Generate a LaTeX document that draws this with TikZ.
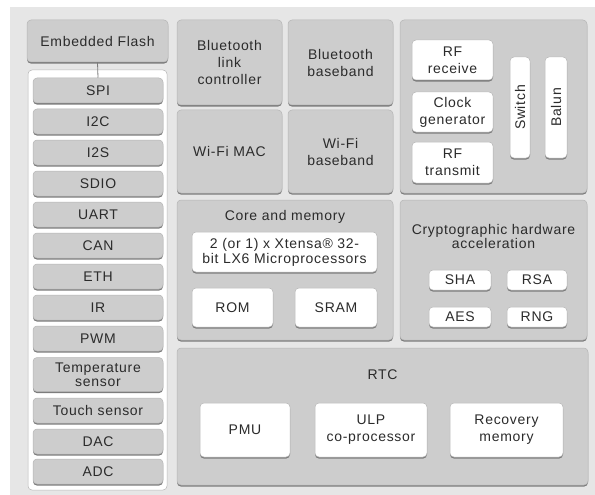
\documentclass[tikz,border=0pt]{standalone}
\usepackage{fontspec}
\setmainfont{Liberation Sans}[LetterSpace=5]
\usepackage{tikz}
\usetikzlibrary{shadows}
\definecolor{page}{HTML}{E6E6E6}
\definecolor{blockgray}{HTML}{CDCDCD}
\definecolor{edgegray}{HTML}{B6B6B6}
\definecolor{shade}{HTML}{7C7C7C}
\definecolor{ink}{HTML}{2B2B2B}
\newcommand\blocksize{\fontsize{14}{17}\selectfont}
\tikzset{
  blockcard/.style={draw=edgegray,fill=blockgray,line width=0.5pt,
                    rounded corners=4pt,align=center,inner sep=2pt,
                    text=ink,font=\blocksize,
                    drop shadow={shadow xshift=0pt,shadow yshift=-1.6pt,
                                 fill=shade,opacity=1}},
  whitecard/.style={blockcard,fill=white},
  portcard/.style={blockcard,minimum width=130,minimum height=25},
  holdcard/.style={draw=edgegray,fill=white,line width=0.5pt,
                   rounded corners=4pt},
  titletext/.style={align=center,inner sep=0pt,text=ink,font=\blocksize},
  flashlink/.style={draw=shade,line width=0.8pt}
}
\begin{document}
\begin{tikzpicture}[x=1pt,y=-1pt]
    \path[use as bounding box] (0,0) rectangle (595,495);
    \fill[page] (10,7) rectangle (595,495);

    % peripherals
    \node[blockcard,minimum width=141,minimum height=42] (flash) at (97.5,41)
      {Embedded Flash};
    \node[holdcard,minimum width=139,minimum height=420] (ports) at (97.5,280) {};
    \node[portcard] (spi)   at (98,90.5)  {SPI};
    \node[portcard] (iic)   at (98,121.5) {I2C};
    \node[portcard] (iis)   at (98,152.5) {I2S};
    \node[portcard] (sdio)  at (98,183.5) {SDIO};
    \node[portcard] (uart)  at (98,214.5) {UART};
    \node[portcard] (can)   at (98,245.5) {CAN};
    \node[portcard] (eth)   at (98,276.5) {ETH};
    \node[portcard] (ir)    at (98,307.5) {IR};
    \node[portcard] (pwm)   at (98,338.5) {PWM};
    \node[portcard,minimum height=34] (temp) at (98,374.5)
      {Temperature\\[-3pt]sensor};
    \node[portcard] (touch) at (98,410.5) {Touch sensor};
    \node[portcard] (dac)   at (98,441.5) {DAC};
    \node[portcard] (adc)   at (98,471.5) {ADC};
    \draw[flashlink] (flash.south) -- (spi.north);

    % radio blocks
    \node[blockcard,minimum width=105,minimum height=85] (btlink) at (229.5,62.5)
      {Bluetooth\\link\\controller};
    \node[blockcard,minimum width=105,minimum height=85] (btbase) at (340.5,62.5)
      {Bluetooth\\baseband};
    \node[blockcard,minimum width=105,minimum height=83] (wifimac) at (229.5,151.5)
      {Wi-Fi MAC};
    \node[blockcard,minimum width=105,minimum height=83] (wifibase) at (340.5,151.5)
      {Wi-Fi\\baseband};

    \node[blockcard,minimum width=187,minimum height=173] (rf) at (493.5,106.5) {};
    \node[whitecard,minimum width=81,minimum height=40] (rfrx) at (452.5,60)
      {RF\\receive};
    \node[whitecard,minimum width=81,minimum height=40] (clkgen) at (452.5,112)
      {Clock\\generator};
    \node[whitecard,minimum width=81,minimum height=41] (rftx) at (452.5,162.5)
      {RF\\transmit};
    \node[whitecard,minimum width=101,minimum height=20,rotate=90] (switch)
      at (520,107.5) {Switch};
    \node[whitecard,minimum width=101,minimum height=22,rotate=90] (balun)
      at (556,107.5) {Balun};

    % core and crypto
    \node[blockcard,minimum width=216,minimum height=140] (core) at (285,270) {};
    \node[titletext] (coretitle) at (285,217) {Core and memory};
    \node[whitecard,minimum width=185,minimum height=40] (cpu) at (284.5,252)
      {2 (or 1) x Xtensa® 32-\\[-2pt]bit LX6 Microprocessors};
    \node[whitecard,minimum width=81,minimum height=39] (rom) at (232.5,307.5)
      {ROM};
    \node[whitecard,minimum width=82,minimum height=39] (sram) at (336,307.5)
      {SRAM};

    \node[blockcard,minimum width=187,minimum height=140] (crypto) at (493.5,270) {};
    \node[titletext] (cryptotitle) at (493.5,236)
      {Cryptographic hardware\\[-3pt]acceleration};
    \node[whitecard,minimum width=62,minimum height=20] (sha) at (460,280) {SHA};
    \node[whitecard,minimum width=60,minimum height=20] (rsa) at (537,280) {RSA};
    \node[whitecard,minimum width=62,minimum height=20] (aes) at (460,317) {AES};
    \node[whitecard,minimum width=60,minimum height=20] (rng) at (537,317) {RNG};

    % rtc
    \node[blockcard,minimum width=411,minimum height=137] (rtc) at (382.5,416.5) {};
    \node[titletext] (rtctitle) at (382.5,375) {RTC};
    \node[whitecard,minimum width=90,minimum height=54] (pmu) at (245,430) {PMU};
    \node[whitecard,minimum width=112,minimum height=54] (ulp) at (371,430)
      {ULP\\co-processor};
    \node[whitecard,minimum width=113,minimum height=54] (recov) at (506.5,430)
      {Recovery\\memory};
  \end{tikzpicture}
\end{document}
